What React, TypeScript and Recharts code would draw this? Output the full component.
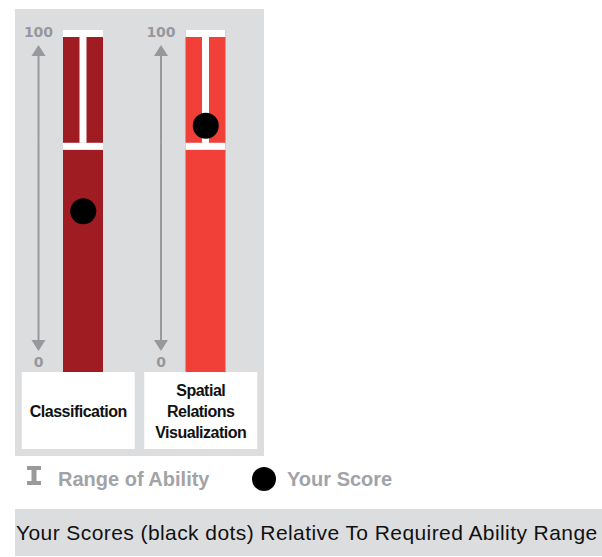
import { ComposedChart, Bar, Scatter, XAxis, YAxis } from "recharts"

const categories = ["Classification", "Spatial Relations Visualization"]
const rangeLow = [67, 67]
const rangeHigh = [100, 100]
const scores = [47, 72]
const axisLabels = { min: "0", max: "100" }

const BAR_COLORS = ["#9e1c22", "#f04037"]
const PANEL = "#dcdddf"
const ARROW = "#97989c"

const data = categories.map((name, i) => ({
  name,
  base: rangeLow[i],
  span: rangeHigh[i] - rangeLow[i],
  score: scores[i],
}))

// lower part of the column, plus the lower half of the 0-100 arrow
function BaseShape(props: any) {
  const { x, y, width, height, index } = props
  const cx = x + width / 2
  const ax = cx - 44.5
  const bottom = y + height
  return (
    <g>
      <rect x={x} y={y} width={width} height={height} fill={BAR_COLORS[index]} />
      <line x1={ax} x2={ax} y1={y} y2={bottom - 31} stroke={ARROW} strokeWidth={2} />
      <polygon points={`${ax - 7},${bottom - 32} ${ax + 7},${bottom - 32} ${ax},${bottom - 21}`} fill={ARROW} />
      <text x={ax} y={bottom - 5} textAnchor="middle" fontFamily="DejaVu Sans" fontWeight="bold" fontSize={14} fill={ARROW}>
        {axisLabels.min}
      </text>
    </g>
  )
}

// range of ability: column top with the white I-beam, plus the upper half of the arrow
function SpanShape(props: any) {
  const { x, y, width, height, index } = props
  const cx = x + width / 2
  const ax = cx - 44.5
  const bottom = y + height
  return (
    <g>
      <rect x={x} y={y} width={width} height={height} fill={BAR_COLORS[index]} />
      <rect x={x} y={y} width={width} height={7} fill="#fff" />
      <rect x={cx - 3.5} y={y} width={7} height={height} fill="#fff" />
      <rect x={x} y={bottom} width={width} height={7} fill="#fff" />
      <line x1={ax} x2={ax} y1={y + 25} y2={bottom} stroke={ARROW} strokeWidth={2} />
      <polygon points={`${ax - 7},${y + 26} ${ax + 7},${y + 26} ${ax},${y + 15}`} fill={ARROW} />
      <text x={ax} y={y + 7} textAnchor="middle" fontFamily="DejaVu Sans" fontWeight="bold" fontSize={14} fill={ARROW}>
        {axisLabels.max}
      </text>
    </g>
  )
}

function ScoreDot(props: any) {
  const { cx, cy } = props
  return <circle cx={cx} cy={cy} r={13} fill="#000" />
}

function CategoryTick(props: any) {
  const { x, y, payload } = props
  const lines = String(payload.value).split(" ")
  const mid = y + 38.5
  const start = mid - ((lines.length - 1) * 21) / 2
  return (
    <g>
      <rect x={x - 61.5} y={y} width={113} height={77} fill="#fff" />
      {lines.map((l, i) => (
        <text
          key={i}
          x={x - 5}
          y={start + i * 21 + 6}
          textAnchor="middle"
          fontFamily="Liberation Sans, Arial, sans-serif"
          fontWeight="bold"
          fontSize={16}
          letterSpacing={-0.5}
          fill="#111"
        >
          {l}
        </text>
      ))}
    </g>
  )
}

export default function App() {
  return (
    <div style={{ position: "absolute", left: 0, top: 0, width: 602, height: 557, background: "#fff" }}>
      <div style={{ position: "absolute", left: 15, top: 9, width: 249, height: 447, background: PANEL }} />
      <div style={{ position: "absolute", left: 0, top: 0 }}>
        <ComposedChart width={300} height={460} data={data} margin={{ top: 30, right: 33, left: 22, bottom: 11 }}>
          <XAxis dataKey="name" height={77} axisLine={false} tickLine={false} tickSize={0} tickMargin={0} interval={0} tick={<CategoryTick />} />
          <YAxis hide domain={[0, 100]} />
          <Bar dataKey="base" stackId="s" barSize={40} shape={<BaseShape />} isAnimationActive={false} />
          <Bar dataKey="span" stackId="s" barSize={40} shape={<SpanShape />} isAnimationActive={false} />
          <Scatter dataKey="score" shape={<ScoreDot />} isAnimationActive={false} />
        </ComposedChart>
      </div>

      {/* legend */}
      <svg style={{ position: "absolute", left: 27, top: 466 }} width={14} height={19}>
        <rect x={0} y={0} width={14} height={4} fill="#9a9a9c" />
        <rect x={4.5} y={0} width={5} height={19} fill="#9a9a9c" />
        <rect x={0} y={15} width={14} height={4} fill="#9a9a9c" />
      </svg>
      <div style={{ position: "absolute", left: 58, top: 466, fontFamily: "Liberation Sans, Arial, sans-serif", fontWeight: "bold", fontSize: 20, lineHeight: "26px", color: "#a2a3a7" }}>
        Range of Ability
      </div>
      <svg style={{ position: "absolute", left: 252, top: 467 }} width={24} height={24}>
        <circle cx={12} cy={12} r={12} fill="#000" />
      </svg>
      <div style={{ position: "absolute", left: 287, top: 466, fontFamily: "Liberation Sans, Arial, sans-serif", fontWeight: "bold", fontSize: 20, lineHeight: "26px", color: "#a2a3a7" }}>
        Your Score
      </div>

      {/* caption */}
      <div
        style={{
          position: "absolute",
          left: 15,
          top: 509,
          width: 587,
          height: 47,
          background: PANEL,
          fontFamily: "Liberation Sans, Arial, sans-serif",
          fontSize: 21,
          letterSpacing: 0.42,
          lineHeight: "47px",
          color: "#111",
          paddingLeft: 1,
          boxSizing: "border-box",
          whiteSpace: "nowrap",
        }}
      >
        Your Scores (black dots) Relative To Required Ability Range
      </div>
    </div>
  )
}
